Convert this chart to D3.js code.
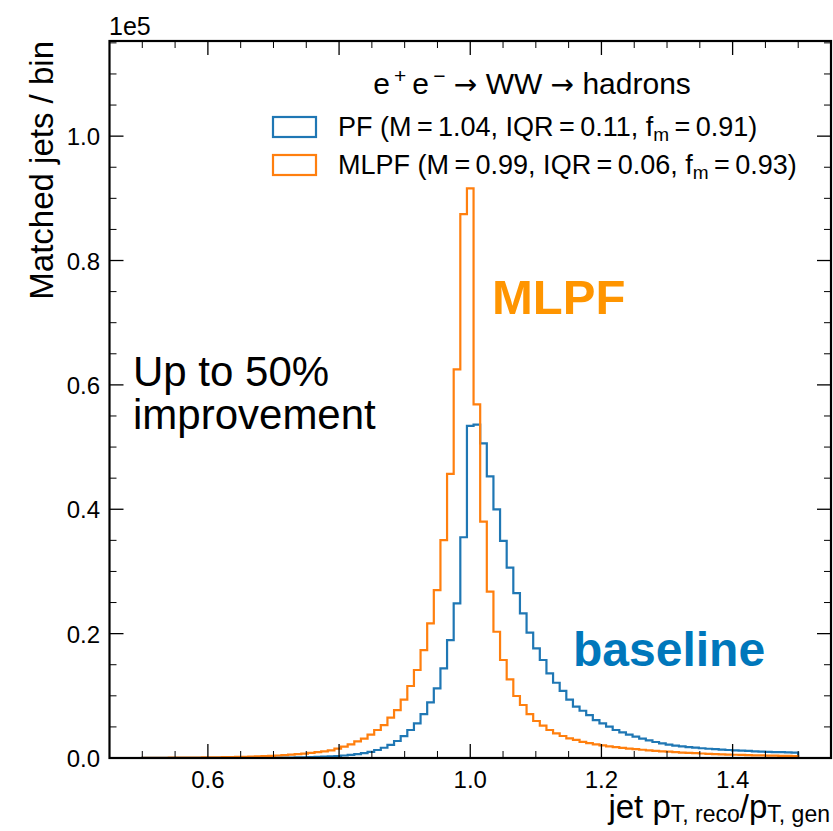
<!DOCTYPE html>
<html>
<head>
<meta charset="utf-8">
<script src="https://cdn.jsdelivr.net/npm/d3@7"></script>
<style>
  html, body { margin: 0; padding: 0; background: #fff; }
  svg { display: block; font-family: "Liberation Sans", Arial, sans-serif; }
</style>
</head>
<body>
<svg id="canvas" width="833" height="831"></svg>
<script>
// histogram binning: 99 bins between 0.5 and 1.5
const binLo = 0.5, binHi = 1.5, nBins = 99;

// counts per bin, in units of 1e5
const pfCounts = [
  0.0001, 0.0001, 0.0001, 0.0001, 0.0001, 0.0001, 0.0001, 0.0001, 0.0001, 0.0001,
  0.0002, 0.0002, 0.0002, 0.0002, 0.0002, 0.0003, 0.0003, 0.0003, 0.0003, 0.0004,
  0.0005, 0.0006, 0.0007, 0.0009, 0.0011, 0.0014, 0.0017, 0.0021, 0.0026, 0.0032,
  0.0040, 0.0050, 0.0062, 0.0078, 0.0100, 0.0129, 0.0165, 0.0210, 0.0273, 0.0352,
  0.0450, 0.0557, 0.0707, 0.0895, 0.1120, 0.1442, 0.1897, 0.2487, 0.3550, 0.5340,
  0.5360, 0.5060, 0.4530, 0.3998, 0.3490, 0.3060, 0.2650, 0.2326, 0.2015, 0.1763,
  0.1576, 0.1360, 0.1210, 0.1080, 0.0940, 0.0825, 0.0760, 0.0690, 0.0610, 0.0557,
  0.0504, 0.0450, 0.0413, 0.0375, 0.0343, 0.0310, 0.0284, 0.0257, 0.0236, 0.0214,
  0.0198, 0.0186, 0.0175, 0.0166, 0.0157, 0.0149, 0.0142, 0.0135, 0.0129, 0.0123,
  0.0118, 0.0113, 0.0108, 0.0104, 0.0100, 0.0096, 0.0093, 0.0089, 0.0086
];

const mlpfCounts = [
  0.0003, 0.0003, 0.0004, 0.0004, 0.0005, 0.0005, 0.0006, 0.0007, 0.0008, 0.0009,
  0.0010, 0.0011, 0.0013, 0.0015, 0.0017, 0.0020, 0.0023, 0.0026, 0.0030, 0.0035,
  0.0040, 0.0046, 0.0053, 0.0061, 0.0070, 0.0081, 0.0093, 0.0108, 0.0124, 0.0150,
  0.0182, 0.0220, 0.0268, 0.0310, 0.0375, 0.0450, 0.0530, 0.0650, 0.0770, 0.0940,
  0.1158, 0.1415, 0.1736, 0.2165, 0.2700, 0.3505, 0.4570, 0.6250, 0.8746, 0.9160,
  0.5687, 0.3800, 0.2674, 0.2030, 0.1576, 0.1265, 0.0997, 0.0852, 0.0707, 0.0595,
  0.0520, 0.0450, 0.0397, 0.0354, 0.0316, 0.0290, 0.0260, 0.0240, 0.0220, 0.0204,
  0.0188, 0.0175, 0.0163, 0.0152, 0.0142, 0.0133, 0.0124, 0.0116, 0.0108, 0.0101,
  0.0094, 0.0088, 0.0082, 0.0077, 0.0072, 0.0067, 0.0063, 0.0059, 0.0055, 0.0052,
  0.0049, 0.0046, 0.0043, 0.0041, 0.0039, 0.0037, 0.0035, 0.0033, 0.0032
];

const xTicks = [0.6, 0.8, 1.0, 1.2, 1.4];
const yTicks = [0.0, 0.2, 0.4, 0.6, 0.8, 1.0];

const legendLabels = [
  { name: "PF", m: "1.04", iqr: "0.11", fm: "0.91" },
  { name: "MLPF", m: "0.99", iqr: "0.06", fm: "0.93" },
];

const colors = { pf: "#1f77b4", mlpf: "#ff7f0e" };

const svg = d3.select("#canvas");

const x = d3.scaleLinear().domain([0.45, 1.55]).range([109.5, 831]);
const y = d3.scaleLinear().domain([0, 1.153]).range([758, 41]);

// bin edges
const edges = d3.range(nBins + 1).map(i => binLo + (binHi - binLo) * i / nBins);

function stepPoints(counts) {
  const pts = [[edges[0], 0]];
  counts.forEach((c, i) => {
    pts.push([edges[i], c]);
    pts.push([edges[i + 1], c]);
  });
  pts.push([edges[nBins], 0]);
  return pts;
}

const line = d3.line().x(d => x(d[0])).y(d => y(d[1]));

svg.append("path")
  .attr("d", line(stepPoints(pfCounts)))
  .attr("fill", "none")
  .attr("stroke", colors.pf)
  .attr("stroke-width", 2.2);

svg.append("path")
  .attr("d", line(stepPoints(mlpfCounts)))
  .attr("fill", "none")
  .attr("stroke", colors.mlpf)
  .attr("stroke-width", 2.2);

// ticks, inward on all four sides
const xMinor = d3.range(0.5, 1.5001, 0.05).filter(v => !xTicks.some(t => Math.abs(t - v) < 1e-6));
const yMinor = d3.range(0.05, 1.151, 0.05).filter(v => !yTicks.some(t => Math.abs(t - v) < 1e-6));

const ticks = svg.append("g").attr("stroke", "#000");
const [x0, x1] = x.range(), [y0, y1] = y.range();

ticks.selectAll(".xmaj").data(xTicks).join("g").each(function(d) {
  const g = d3.select(this);
  g.append("line").attr("x1", x(d)).attr("x2", x(d)).attr("y1", y0).attr("y2", y0 - 14).attr("stroke-width", 1.3);
  g.append("line").attr("x1", x(d)).attr("x2", x(d)).attr("y1", y1).attr("y2", y1 + 14).attr("stroke-width", 1.3);
});
ticks.selectAll(".xmin").data(xMinor).join("g").each(function(d) {
  const g = d3.select(this);
  g.append("line").attr("x1", x(d)).attr("x2", x(d)).attr("y1", y0).attr("y2", y0 - 7).attr("stroke-width", 1);
  g.append("line").attr("x1", x(d)).attr("x2", x(d)).attr("y1", y1).attr("y2", y1 + 7).attr("stroke-width", 1);
});
ticks.selectAll(".ymaj").data(yTicks).join("g").each(function(d) {
  const g = d3.select(this);
  g.append("line").attr("y1", y(d)).attr("y2", y(d)).attr("x1", x0).attr("x2", x0 + 14).attr("stroke-width", 1.3);
  g.append("line").attr("y1", y(d)).attr("y2", y(d)).attr("x1", x1).attr("x2", x1 - 14).attr("stroke-width", 1.3);
});
ticks.selectAll(".ymin").data(yMinor).join("g").each(function(d) {
  const g = d3.select(this);
  g.append("line").attr("y1", y(d)).attr("y2", y(d)).attr("x1", x0).attr("x2", x0 + 7).attr("stroke-width", 1);
  g.append("line").attr("y1", y(d)).attr("y2", y(d)).attr("x1", x1).attr("x2", x1 - 7).attr("stroke-width", 1);
});

// frame
svg.append("rect")
  .attr("x", x0).attr("y", y1)
  .attr("width", x1 - x0).attr("height", y0 - y1)
  .attr("fill", "none").attr("stroke", "#000").attr("stroke-width", 2.2);

// tick labels
svg.append("g").selectAll("text").data(xTicks).join("text")
  .attr("x", d => x(d)).attr("y", 788)
  .attr("text-anchor", "middle").attr("font-size", 24)
  .text(d => d3.format(".1f")(d));

svg.append("g").selectAll("text").data(yTicks).join("text")
  .attr("x", 100).attr("y", d => y(d) + 9)
  .attr("text-anchor", "end").attr("font-size", 24)
  .text(d => d3.format(".1f")(d));

svg.append("text").attr("x", 109).attr("y", 35).attr("font-size", 25).text("1e5");

// axis titles
svg.append("text")
  .attr("transform", `translate(53,${y1}) rotate(-90)`)
  .attr("text-anchor", "end").attr("font-size", 33)
  .text("Matched jets / bin");

const xl = svg.append("text")
  .attr("x", 830).attr("y", 818)
  .attr("text-anchor", "end").attr("font-size", 33);
xl.append("tspan").text("jet p");
xl.append("tspan").attr("font-size", 23).attr("dy", 4).text("T, reco");
xl.append("tspan").attr("dy", -4).text("/p");
xl.append("tspan").attr("font-size", 23).attr("dy", 4).text("T, gen");

// legend
const lg = svg.append("g");
const title = lg.append("text").attr("x", 532).attr("y", 94).attr("text-anchor", "middle").attr("font-size", 30);
title.append("tspan").text("e");
title.append("tspan").attr("font-size", 21).attr("dy", -11).text("\u2009+");
title.append("tspan").attr("dy", 11).text("\u2009e");
title.append("tspan").attr("font-size", 21).attr("dy", -11).text("\u2009\u2212");
title.append("tspan").attr("dy", 11).text(" ");
title.append("tspan").attr("font-family", "DejaVu Sans").attr("font-size", 28).text("\u2192");
title.append("tspan").text(" WW ");
title.append("tspan").attr("font-family", "DejaVu Sans").attr("font-size", 28).text("\u2192");
title.append("tspan").text(" hadrons");

const th = "\u2009";
legendLabels.forEach((d, i) => {
  const cy = 127 + i * 38;
  lg.append("rect")
    .attr("x", 273).attr("y", cy - 10).attr("width", 43).attr("height", 20)
    .attr("fill", "none").attr("stroke", i === 0 ? colors.pf : colors.mlpf).attr("stroke-width", 2.2);
  const t = lg.append("text").attr("x", 338).attr("y", cy + 9).attr("font-size", 27);
  t.append("tspan").text(`${d.name} (M${th}=${th}${d.m}, IQR${th}=${th}${d.iqr}, f`);
  t.append("tspan").attr("font-size", 19).attr("dy", 5).text("m");
  t.append("tspan").attr("dy", -5).text(`${th}=${th}${d.fm})`);
});

// annotations
svg.append("text").attr("x", 492).attr("y", 314)
  .attr("font-size", 49).attr("font-weight", "bold").attr("fill", "#ff9500").text("MLPF");
svg.append("text").attr("x", 573).attr("y", 666)
  .attr("font-size", 48).attr("font-weight", "bold").attr("fill", "#0077bb").text("baseline");
svg.append("text").attr("x", 133).attr("y", 386).attr("font-size", 42).text("Up to 50%");
svg.append("text").attr("x", 133).attr("y", 429).attr("font-size", 42).text("improvement");
</script>
</body>
</html>
